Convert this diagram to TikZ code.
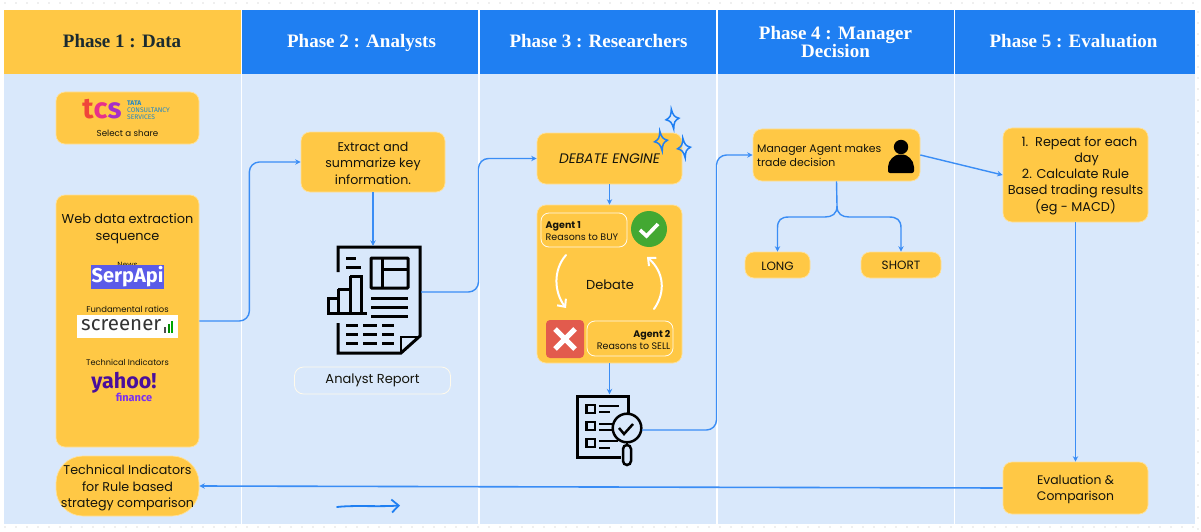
\documentclass[tikz,border=0pt]{standalone}
\usepackage{fontspec}
\setmainfont{Poppins}
\newfontfamily\titlefont{Liberation Serif}[BoldFont={Liberation Serif Bold}]
\newfontfamily\logofont{Fira Sans}
\usetikzlibrary{arrows.meta}
\definecolor{hy}{HTML}{FFC845}
\definecolor{hb}{HTML}{1F7FF2}
\definecolor{pan}{HTML}{D9E8FB}
\definecolor{ln}{HTML}{3A8DF5}
\definecolor{ink}{HTML}{14140C}
\definecolor{titlec}{HTML}{1B2B30}
\definecolor{serpc}{HTML}{5B5BE8}
\definecolor{yahooc}{HTML}{4A0F9C}
\definecolor{finc}{HTML}{7B2FF0}
\definecolor{okc}{HTML}{43A832}
\definecolor{noc}{HTML}{E25B4D}
\definecolor{tcsa}{HTML}{F0453A}
\definecolor{tcsb}{HTML}{E8308A}
\definecolor{tcsc}{HTML}{A62FC8}
\definecolor{tcst}{HTML}{1E86C8}
\newcommand{\fsz}[2]{\fontsize{#1}{#2}\selectfont}
\tikzset{
  x=1pt,y=-1pt,
  ybox/.style={draw=hy!55!white,line width=.7pt,fill=hy,rounded corners=9pt,inner sep=0pt,align=center,text=ink},
  obox/.style={draw=white!90!hy,line width=.8pt,rounded corners=8pt,inner sep=0pt,align=center,text=ink},
  head/.style={minimum height=64pt,inner sep=0pt,align=center,font=\titlefont\bfseries\fsz{19}{16}},
  lab/.style={inner sep=0pt,align=center,text=ink},
  conn/.style={draw=ln,line width=1.4pt,rounded corners=10pt,-{Stealth[length=5.5pt,width=5.5pt]}},
  ico/.style={draw=black,line width=3pt},
  spark/.style={draw=hb,line width=1.5pt,fill=none,line join=miter},
}
\newcommand{\sparkle}[2]{%
  \draw[spark,shift={(#1)},rotate=#2] (0,-10) .. controls (1.2,-3) and (2,-2) .. (6.5,0) .. controls (2,2) and (1.2,3) .. (0,10) .. controls (-1.2,3) and (-2,2) .. (-6.5,0) .. controls (-2,-2) and (-1.2,-3) .. (0,-10) -- cycle;}
\begin{document}
\begin{tikzpicture}
\useasboundingbox (0,0) rectangle (1201,532);
\fill[white] (0,0) rectangle (1201,532);
\foreach \i in {0,...,108} {
  \fill[black!12] (5+11*\i,3) circle (.9pt);
  \fill[black!12] (5+11*\i,527) circle (.9pt);
}
\foreach \i in {0,...,47} {\fill[black!12] (1198,12+11*\i) circle (.9pt);}
% panels
\fill[pan] (4,74) rectangle (1195,524);
\fill[hy] (4,10) rectangle (241,74);
\fill[hb] (241,10) rectangle (1195,74);
\foreach \x in {241.5,479,717,954.5} {\draw[white,line width=1.2pt] (\x,10) -- (\x,524);}
% headers
\node[head,text=titlec] (h1) at (122,41) {Phase 1 : Data};
\node[head,text=white] (h2) at (361.5,42.5) {Phase 2 : Analysts};
\node[head,text=white] (h3) at (598.5,41) {Phase 3 : Researchers};
\node[head,text=white] (h4) at (835.5,42) {Phase 4 : Manager\\Decision};
\node[head,text=white] (h5) at (1073.5,41) {Phase 5 : Evaluation};

% Phase 1 boxes
\node[ybox,minimum width=143pt,minimum height=52pt] (tcsbox) at (127.5,118) {};
\node[lab,font=\logofont\bfseries\fsz{29}{29}] (tcslogo) at (102,109) {\textcolor{tcsa}{t}\textcolor{tcsb}{c}\textcolor{tcsc}{s}};
\node[lab,anchor=west,text=tcst,font=\logofont\fsz{6.7}{6.8},align=left] (tcstxt) at (127,110.5) {\textbf{TATA}\\CONSULTANCY\\SERVICES};
\node[lab,font=\fsz{8.7}{10}] (sel) at (127.5,133) {Select a share};

\node[ybox,minimum width=143pt,minimum height=252pt] (web) at (127.5,321) {};
\node[lab,font=\fsz{12.9}{17}] (webt) at (127.5,229) {Web data extraction\\sequence};
\node[lab,font=\fsz{7.6}{9}] (news) at (127.5,265) {News};
\node[fill=serpc,minimum width=73pt,minimum height=24pt,inner sep=0pt,text=white,font=\logofont\bfseries\fsz{20}{20}] (serp) at (127.5,277) {SerpApi};
\node[lab,font=\fsz{8.4}{10}] (fund) at (127.5,309) {Fundamental ratios};
\node[fill=white,minimum width=101pt,minimum height=23pt,inner sep=0pt] (scr) at (127.5,326.5) {};
\node[lab,anchor=west,text=black!80,font=\logofont\fsz{20.5}{22}] (scrt) at (81,325.5) {screener};
\fill[black!70] (164,327) rectangle (166,333);
\fill[green!55!black] (167.5,324) rectangle (169.5,333);
\fill[green!65!black] (171,321) rectangle (173,333);
\node[lab,font=\fsz{8.2}{10}] (tech) at (127.5,362) {Technical Indicators};
\node[lab,text=yahooc,font=\logofont\bfseries\fsz{21.5}{22}] (yah) at (124,382.5) {yahoo!};
\node[lab,text=finc,font=\logofont\bfseries\fsz{11}{11}] (fin) at (134,397) {finance};

\node[ybox,minimum width=143pt,minimum height=60pt,rounded corners=27pt] (ti) at (127.5,486) {};
\node[lab,font=\fsz{12.7}{16.5}] (tit) at (127.5,488) {Technical Indicators\\for Rule based\\strategy comparison};

% Phase 2
\node[ybox,minimum width=144pt,minimum height=60pt] (ext) at (373,162) {};
\node[lab,font=\fsz{12.6}{16.5}] (extt) at (373,163) {Extract and\\summarize key\\information.};
\node[inner sep=0pt,minimum width=94pt,minimum height=108pt] (rep) at (374,300) {};
\coordinate (repout) at (421,292);
\draw[ico,line join=miter] (338,272) -- (338,247) -- (420,247) -- (420,336) -- (401,353) -- (338,353) -- (338,323);
\draw[ico,line width=2.2pt,line join=miter] (401,352) -- (401,337) -- (419,337);
\draw[ico] (346,258) -- (356,258) (346,267) -- (361,267);
\draw[ico,rounded corners=.8pt] (371,258) rectangle (408,288);
\draw[ico] (382,258) -- (382,288) (382,269.5) -- (408,269.5);
\draw[ico] (371,298) -- (408,298) (371,307) -- (408,307) (371,316) -- (408,316);
\draw[ico] (327,313) -- (367,313) (328,313) -- (328,298.5) -- (338,298.5) -- (338,313) (338,289) -- (350,289) -- (350,313) (338,289) -- (338,300) (350,276) -- (361,276) -- (361,313) (350,276) -- (350,290);
\foreach \yy in {325,334,343} {\draw[ico] (346,\yy) -- (358,\yy) (363,\yy) -- (377,\yy) (382,\yy) -- (394,\yy);}
\node[obox,fill=pan,minimum width=156pt,minimum height=27pt,rounded corners=9pt,font=\fsz{13}{14}] (rept) at (372.5,380.5) {Analyst Report};

% Phase 3
\node[ybox,minimum width=145pt,minimum height=51pt,font=\itshape\fsz{13.8}{15}] (deb) at (609.5,158.5) {DEBATE ENGINE};
\sparkle{672.5,119}{7}
\sparkle{661,141}{7}
\sparkle{684,148}{7}
\node[ybox,minimum width=145pt,minimum height=158pt] (pan3) at (609.5,284) {};
\node[obox,minimum width=86pt,minimum height=34pt,rounded corners=8pt] (a1) at (584,230) {};
\node[lab,anchor=west,align=left,font=\fsz{9.5}{12}] (a1t) at (545.5,231) {\textbf{Agent 1}\\Reasons to BUY};
\node[circle,fill=okc,minimum size=36pt,inner sep=0pt] (ok) at (649,229) {};
\draw[white,line width=3.6pt] (640,230) -- (646.5,236) -- (658,224);
\node[fill=noc,rounded corners=4pt,minimum size=38pt,inner sep=0pt] (no) at (565,339) {};
\draw[white,line width=5pt] (555,329) -- (575,349) (575,329) -- (555,349);
\node[obox,minimum width=86pt,minimum height=35pt,rounded corners=8pt] (a2) at (630,338.5) {};
\node[lab,anchor=east,align=right,font=\fsz{9.5}{12}] (a2t) at (670.5,339.5) {\textbf{Agent 2}\\Reasons to SELL};
\node[lab,font=\fsz{13}{15}] (dtxt) at (610,285) {Debate};
\coordinate (la) at (566,255);
\coordinate (lb) at (566,308);
\coordinate (ra) at (654,309);
\coordinate (rb) at (647,257);
\draw[white,line width=2pt,line cap=round,-{Straight Barb[length=6pt,width=11pt]}] (la) .. controls (553,270) and (554,292) .. (lb);
\draw[white,line width=2pt,line cap=round,-{Straight Barb[length=6pt,width=11pt]}] (ra) .. controls (666,292) and (664,272) .. (rb);

% check icon
\node[inner sep=0pt,minimum width=65pt,minimum height=71pt] (chk) at (609.5,430) {};
\draw[ico,line join=miter] (628,416) -- (628,396) -- (577.5,396) -- (577.5,457) -- (621,457);
\foreach \yy in {405,422,439} {\draw[ico,line width=2.3pt] (586.5,\yy) rectangle (595,\yy+8);}
\draw[ico,line width=2pt] (599,406) -- (619,406) (599,412) -- (610,412) (599,424) -- (613,424) (599,429.5) -- (613,429.5) (599,441) -- (618,441) (599,448) -- (610,448);
\draw[ico,fill=pan,line width=2.5pt] (627,428) circle (14.3pt);
\draw[ico,line width=2.5pt] (619,428) -- (624,434) -- (633,424);
\draw[ico,line width=2.5pt] (627,442) -- (627,445);
\draw[ico,line width=2.5pt,rounded corners=4pt,fill=pan] (623,445) rectangle (631,465);
\coordinate (chkout) at (642,430);

% Phase 4
\node[ybox,minimum width=167pt,minimum height=52pt] (mgr) at (836.5,155) {};
\node[lab,anchor=west,align=left,font=\fsz{10.9}{14}] (mgrt) at (757,156) {Manager Agent makes\\trade decision};
\fill[black] (901,147) circle (7.2pt);
\fill[black,rounded corners=2pt] (888,173) -- (888,169) .. controls (888,160) and (895,154.5) .. (901,154.5) .. controls (907,154.5) and (914,160) .. (914,169) -- (914,173) -- cycle;
\node[ybox,minimum width=65pt,minimum height=26pt] (long) at (777.5,265) {};
\node[lab,font=\fsz{12}{12}] (longt) at (777.5,266) {LONG};
\node[ybox,minimum width=80pt,minimum height=26pt] (short) at (901,265) {};
\node[lab,font=\fsz{12}{12}] (shortt) at (901,265.5) {SHORT};
\coordinate (branch) at (837,206);

% Phase 5
\node[ybox,minimum width=145pt,minimum height=94pt] (rule) at (1075.5,175) {};
\node[lab,font=\fsz{12.8}{16.2}] (rulet) at (1075.5,175.5) {\hspace*{8pt}1.\ \ Repeat for each\\\hspace*{22pt}day\\2. Calculate Rule\\Based trading results\\(eg - MACD)};
\node[ybox,minimum width=145pt,minimum height=52pt] (evalb) at (1075.5,488) {};
\node[lab,font=\fsz{12.4}{16}] (evalt) at (1075.5,489.5) {Evaluation \&\\Comparison};

% connectors
\draw[conn] (web.east) -- ++(50,0) |- (ext.west);
\draw[conn] (ext.south) -- (ext.south |- rep.north);
\draw[conn] (repout) -- (478.5,292) |- (deb.west);
\draw[conn] (deb.south) -- (pan3.north);
\draw[conn] (pan3.south) -- (chk.north);
\draw[conn] (chkout) -- (716.5,430) |- (mgr.west);
\draw[conn] (mgr.east) -- (rule.west);
\draw[conn,rounded corners=0pt] (mgr.south) -- (branch) .. controls (837,214) and (832,217) .. (825,217) -- (789,217) .. controls (781,217) and (777.5,220) .. (777.5,228) -- (long.north);
\draw[conn,rounded corners=0pt] (branch) .. controls (837,214) and (842,217) .. (849,217) -- (889,217) .. controls (897,217) and (901,220) .. (901,228) -- (short.north);
\draw[conn] (rule.south) -- (evalb.north);
\draw[conn,line width=1.6pt] (evalb.west) -- (ti.east);
\coordinate (sa) at (337,507);
\coordinate (sb) at (400,505.5);
\draw[draw=hb,line width=1.8pt,line cap=round,-{Straight Barb[length=7pt,width=13pt]}] (sa) .. controls (355,505) and (375,507) .. (sb);
\end{tikzpicture}
\end{document}
